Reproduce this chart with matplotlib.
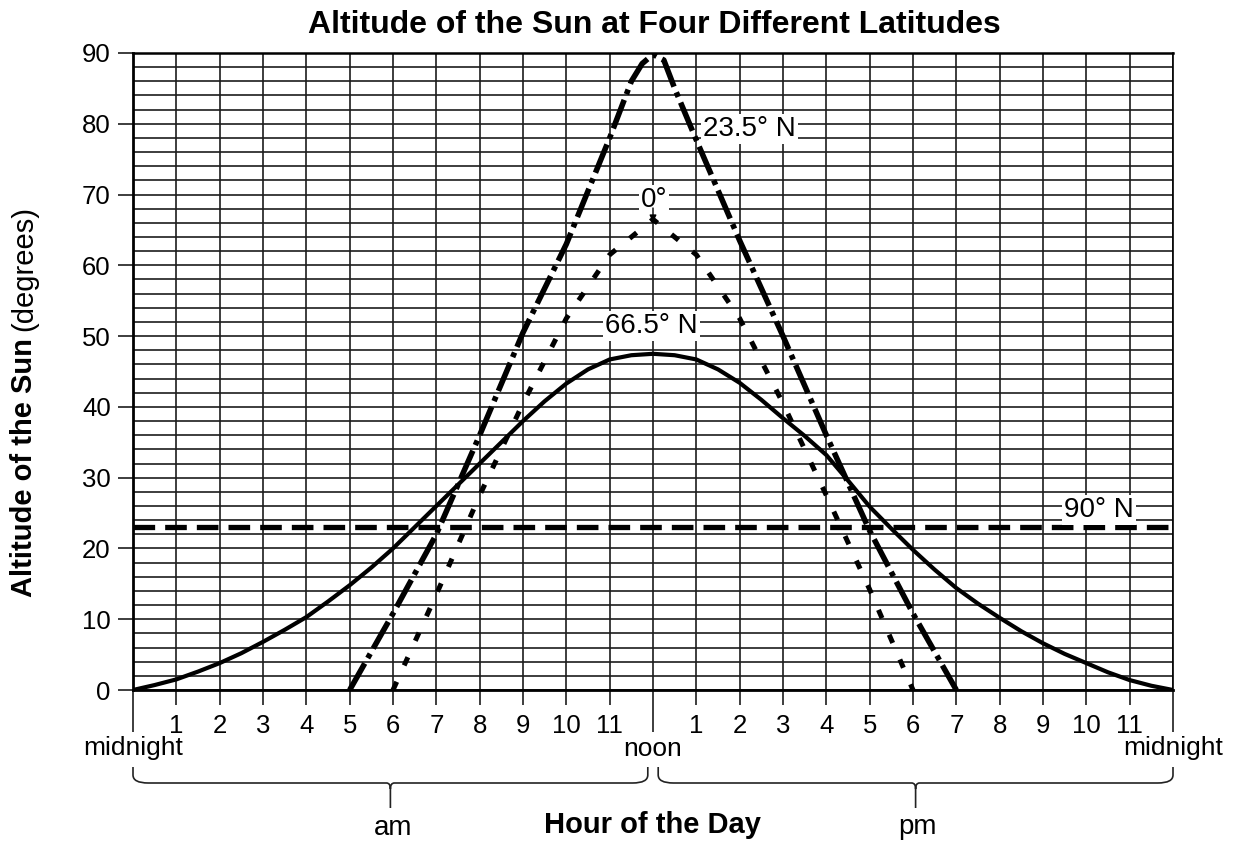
import matplotlib
matplotlib.use("Agg")
import matplotlib.pyplot as plt
from matplotlib import transforms
from matplotlib.path import Path
from matplotlib.patches import PathPatch
import numpy as np

plt.rcParams['font.family'] = ['Liberation Sans', 'DejaVu Sans']

# ---------------- data ----------------
title = "Altitude of the Sun at Four Different Latitudes"

# 66.5 N (solid)
hours_665 = [0, 0.5, 1, 1.5, 2, 2.5, 3, 3.5, 4, 4.5, 5, 5.5, 6, 6.5, 7, 7.5, 8, 8.5, 9, 9.5,
             10, 10.5, 11, 11.5, 12, 12.5, 13, 13.5, 14, 14.5, 15, 15.5, 16, 16.5, 17, 17.5,
             18, 18.5, 19, 19.5, 20, 20.5, 21, 21.5, 22, 22.5, 23, 23.5, 24]
alt_665 = [0, 0.7, 1.5, 2.6, 3.8, 5.2, 6.8, 8.5, 10.3, 12.5, 14.8, 17.3, 20.0, 23.0, 26.0,
           29.0, 32.0, 35.0, 38.0, 40.8, 43.3, 45.3, 46.7, 47.3, 47.5, 47.3, 46.7, 45.3, 43.4,
           41.0, 38.4, 35.9, 33.2, 29.6, 25.9, 22.8, 19.8, 17.0, 14.4, 12.2, 10.2, 8.3, 6.6,
           5.1, 3.8, 2.5, 1.4, 0.6, 0]

# 0 deg (dotted)
hours_0 = [6, 7, 8, 9, 10, 11, 12, 13, 14, 15, 16, 17, 18]
alt_0 = [0, 13.5, 27.5, 40.5, 52.5, 61.5, 66.5, 61.5, 52.5, 40.5, 27.5, 14.2, 0]

# 23.5 N (dash-dot)
hours_235 = [5, 6, 7, 8, 9, 10, 11, 11.5, 11.75, 12, 12.25, 12.5, 13, 14, 15, 16, 17, 18, 19]
alt_235 = [0, 10.8, 22.0, 36.0, 50.5, 63.0, 78.0, 86.0, 88.5, 89.8, 89.0, 85.0, 77.7, 63.5,
           50.0, 36.0, 22.5, 10.8, 0]

# 90 N (dashed, constant)
alt_90 = 23.0

hour_ticks = [1, 2, 3, 4, 5, 6, 7, 8, 9, 10, 11, 13, 14, 15, 16, 17, 18, 19, 20, 21, 22, 23]
hour_labels = ['1', '2', '3', '4', '5', '6', '7', '8', '9', '10', '11',
               '1', '2', '3', '4', '5', '6', '7', '8', '9', '10', '11']
long_ticks = [0, 12, 24]
alt_ticks = [0, 10, 20, 30, 40, 50, 60, 70, 80, 90]

# ---------------- figure ----------------
W, H = 1235, 844
fig = plt.figure(figsize=(W / 100, H / 100), dpi=100)
fig.patch.set_facecolor('white')


def fy(py):
    return 1 - py / H


def fx(px):
    return px / W


ax = fig.add_axes([fx(133), fy(690), 1040 / W, 637 / H])
ax.set_xlim(0, 24)
ax.set_ylim(0, 90)

gc = '#1c1c1c'
ax.set_xticks(hour_ticks)
ax.set_xticklabels(hour_labels)
ax.set_xticks(long_ticks, minor=True)
ax.set_yticks(alt_ticks)
ax.set_yticks(np.arange(0, 91, 2), minor=True)
ax.grid(True, which='both', color=gc, lw=1.2)
ax.set_axisbelow(True)

ax.tick_params(axis='x', which='major', length=11, width=1.2, color=gc,
               direction='out', pad=6, labelsize=18.5)
ax.tick_params(axis='x', which='minor', length=30, width=1.2, color=gc, direction='out')
ax.tick_params(axis='y', which='major', length=11, width=1.2, color=gc,
               direction='out', pad=5, labelsize=18.5)
ax.tick_params(axis='y', which='minor', length=0)

ax.spines['left'].set_linewidth(2.0)
ax.spines['bottom'].set_linewidth(2.0)
ax.spines['top'].set_linewidth(1.8)
ax.spines['right'].set_linewidth(1.2)

# curves
ax.plot(hours_665, alt_665, color='black', lw=3.0, solid_joinstyle='round', zorder=3)
ax.plot(hours_0, alt_0, color='black', lw=3.6, linestyle=(0, (1.8, 3.6)), zorder=3)
ax.plot(hours_235, alt_235, color='black', lw=4.0, linestyle=(0, (5.5, 1.1, 0.9, 1.1)), zorder=3)
ax.axhline(alt_90, color='black', lw=3.8, linestyle=(0, (4.1, 1.9)), zorder=3)

# curve labels
bb = dict(facecolor='white', edgecolor='none', pad=1.5)
ax.text(14.22, 78.3, "23.5° N", fontsize=20, ha='center', va='baseline', bbox=bb, zorder=4)
ax.text(12.02, 68.3, "0°", fontsize=20, ha='center', va='baseline', bbox=bb, zorder=4)
ax.text(11.97, 50.45, "66.5° N", fontsize=20, ha='center', va='baseline', bbox=bb, zorder=4)
ax.text(22.29, 24.45, "90° N", fontsize=20, ha='center', va='baseline', bbox=bb, zorder=4)
ax.annotate('', xy=(12.0, 66.1), xytext=(12.0, 68.1),
            arrowprops=dict(arrowstyle='-|>', lw=1.0, color='black', mutation_scale=10,
                            shrinkA=0, shrinkB=0), zorder=5)

# text below the axis
bt = transforms.blended_transform_factory(ax.transData, fig.transFigure)
ax.text(0, fy(755), "midnight", transform=bt, ha='center', va='baseline', fontsize=19, clip_on=False)
ax.text(12, fy(756), "noon", transform=bt, ha='center', va='baseline', fontsize=19, clip_on=False)
ax.text(24, fy(755), "midnight", transform=bt, ha='center', va='baseline', fontsize=19, clip_on=False)


def brace(x0, x1, yt, ym, yb, r1, r2):
    xc = (x0 + x1) / 2
    verts = [
        (x0, fy(yt)), (x0, fy(ym - 8)),
        (x0, fy(ym)), (x0 + r1, fy(ym)),
        (xc - r2, fy(ym)),
        (xc, fy(ym)), (xc, fy(ym + 6)),
        (xc, fy(yb)),
        (xc, fy(ym + 6)),
        (xc, fy(ym)), (xc + r2, fy(ym)),
        (x1 - r1, fy(ym)),
        (x1, fy(ym)), (x1, fy(ym - 8)),
        (x1, fy(yt)),
    ]
    codes = [Path.MOVETO, Path.LINETO,
             Path.CURVE3, Path.CURVE3,
             Path.LINETO,
             Path.CURVE3, Path.CURVE3,
             Path.LINETO,
             Path.MOVETO,
             Path.CURVE3, Path.CURVE3,
             Path.LINETO,
             Path.CURVE3, Path.CURVE3,
             Path.LINETO]
    p = PathPatch(Path(verts, codes), transform=bt, fill=False, lw=1.2,
                  edgecolor='#222222', clip_on=False)
    ax.add_patch(p)


brace(0, 11.88, 767, 783, 808, 0.35, 0.09)
brace(12.12, 24, 767, 783, 808, 0.35, 0.09)

ax.text(6.0, fy(835), "am", transform=bt, ha='center', va='baseline', fontsize=20, clip_on=False)
ax.text(18.1, fy(834), "pm", transform=bt, ha='center', va='baseline', fontsize=20, clip_on=False)
ax.text(12.0, fy(833), "Hour of the Day", transform=bt, ha='center', va='baseline',
        fontsize=21, fontweight='bold', clip_on=False)

# title
fig.text(fx(654.5), fy(33), title, ha='center', va='baseline', fontsize=23, fontweight='bold')

# y label: bold part + normal part
t1 = fig.text(fx(24), fy(597), "Altitude of the Sun", rotation=90, ha='center', va='bottom',
              fontsize=21, fontweight='bold')
fig.canvas.draw()
b1 = t1.get_window_extent()
fig.text(fx(24), (b1.y1 + 7) / H, "(degrees)", rotation=90, ha='center', va='bottom', fontsize=21)

fig.savefig("out.png", dpi=100)
